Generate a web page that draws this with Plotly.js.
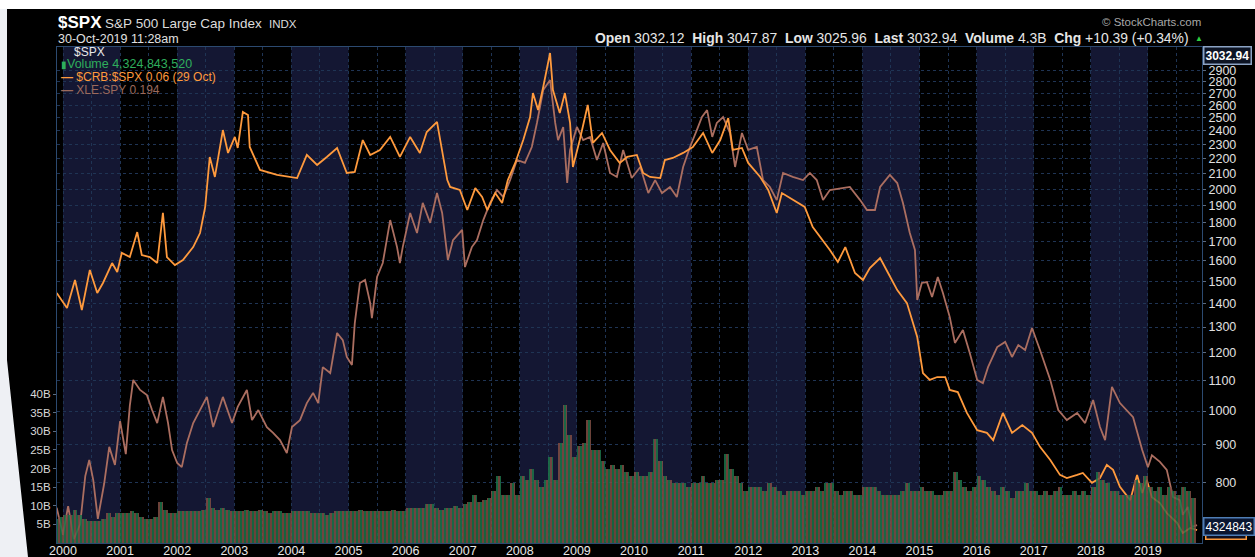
<!DOCTYPE html>
<html><head><meta charset="utf-8">
<script src="https://cdn.plot.ly/plotly-3.0.1.min.js"></script>
<style>
html,body{margin:0;padding:0;background:#fff;width:1255px;height:557px;overflow:hidden}
#chart{position:absolute;left:0;top:9px;width:1255px;height:548px}
#edge{position:absolute;left:0;top:0;width:40px;height:557px;background:#eef0f4;clip-path:polygon(0 9px,7px 9px,7px 360px,28px 557px,0 557px);pointer-events:none}
</style></head><body><div id="chart"></div><div id="edge"></div>
<script>
// ---- $CRB:$SPX ratio line (plotted on the $SPX price scale) ----
const crbX = [
 1999.89,2000.07,2000.21,2000.33,2000.47,2000.60,2000.70,2000.86,2000.95,
 2001.03,2001.17,2001.30,2001.38,2001.52,2001.65,2001.75,2001.82,2001.96,
 2002.10,2002.28,2002.40,2002.49,2002.57,2002.66,2002.80,2002.89,
 2003.01,2003.06,2003.15,2003.24,2003.27,2003.45,2003.75,
 2004.10,2004.27,2004.45,2004.62,2004.80,2004.97,
 2005.11,2005.25,2005.38,2005.55,2005.73,2005.90,
 2006.08,2006.25,2006.37,2006.55,2006.60,2006.73,2006.78,2006.95,
 2007.08,2007.22,2007.34,2007.43,2007.57,2007.69,2007.79,2007.92,
 2008.06,2008.18,2008.23,2008.32,2008.41,2008.53,2008.58,2008.70,2008.79,2008.88,2008.93,
 2009.05,2009.19,2009.28,2009.44,2009.58,2009.75,2009.88,
 2010.05,2010.16,2010.28,2010.46,2010.54,2010.68,2010.86,
 2011.03,2011.21,2011.37,2011.51,2011.65,2011.73,2011.89,
 2012.00,2012.21,2012.35,2012.50,2012.59,2012.70,2012.87,2012.99,
 2013.13,2013.31,2013.43,2013.57,2013.70,2013.87,
 2014.01,2014.13,2014.31,2014.45,2014.61,2014.78,2014.96,
 2015.06,2015.18,2015.31,2015.45,2015.53,2015.67,2015.83,
 2016.01,2016.18,2016.29,2016.46,2016.62,2016.80,2016.97,
 2017.11,2017.29,2017.46,2017.58,2017.76,2017.86,
 2018.02,2018.16,2018.28,2018.39,2018.51,2018.69,2018.81,2018.90,2018.98,
 2019.07,2019.21,2019.33,2019.51,2019.61,2019.74,2019.86];
const crbY = [
 1446,1380,1506,1371,1554,1446,1492,1588,1544,
 1639,1618,1749,1628,1618,1588,1857,1618,1578,
 1603,1669,1744,1892,2212,2078,2406,2240,
 2355,2275,2546,2522,2282,2124,2091,
 2071,2226,2157,2212,2275,2104,
 2111,2332,2226,2261,2355,2212,
 2355,2240,2391,2468,2347,2058,2014,1995,
 1874,2007,1952,1874,1976,1916,2058,2171,
 2332,2506,2701,2561,2752,3061,2727,2538,2701,2460,2144,
 2332,2602,2311,2384,2261,2171,2212,
 2226,2104,2078,2071,2191,2205,2240,
 2282,2384,2240,2332,2498,2261,2275,
 2171,2078,1995,1857,1976,1952,1916,1892,
 1777,1706,1654,1593,1669,1539,
 1506,1563,1613,1539,1459,1401,1260,
 1126,1102,1112,1112,1068,1061,994,
 942,934,913,994,934,957,934,
 894,858,819,811,819,824,
 799,811,845,832,789,757,819,774,806,
 764,750,727,705,683,694,689];

// ---- XLE:SPY ratio line ----
const xleX = [
 1999.89,2000.00,2000.09,2000.19,2000.30,2000.39,2000.46,2000.53,2000.61,2000.72,2000.81,2000.91,
 2001.00,2001.10,2001.17,2001.23,2001.35,2001.47,2001.56,2001.65,2001.75,2001.84,2001.91,
 2002.00,2002.08,2002.17,2002.28,2002.40,2002.52,2002.63,2002.75,2002.80,2002.96,
 2003.06,2003.22,2003.31,2003.42,2003.57,2003.68,2003.80,2003.92,
 2004.01,2004.15,2004.27,2004.38,2004.47,2004.55,2004.68,2004.80,2004.90,2004.97,
 2005.06,2005.11,2005.20,2005.29,2005.38,2005.41,2005.50,2005.60,2005.73,2005.85,2005.90,2005.95,
 2006.08,2006.20,2006.30,2006.43,2006.55,2006.64,2006.74,2006.83,2006.99,
 2007.04,2007.16,2007.25,2007.36,2007.48,2007.60,2007.71,2007.83,2007.95,
 2008.09,2008.21,2008.30,2008.41,2008.53,2008.62,2008.67,2008.76,2008.83,2008.88,
 2009.00,2009.11,2009.23,2009.35,2009.46,2009.58,2009.70,2009.81,2009.96,
 2010.11,2010.25,2010.37,2010.49,2010.63,2010.75,2010.86,2010.98,
 2011.10,2011.19,2011.28,2011.37,2011.45,2011.56,2011.68,2011.77,2011.89,
 2012.00,2012.15,2012.26,2012.38,2012.50,2012.61,2012.78,2012.96,
 2013.08,2013.20,2013.31,2013.43,2013.66,2013.78,2013.96,
 2014.08,2014.22,2014.31,2014.48,2014.61,2014.71,2014.83,2014.92,2014.96,
 2015.04,2015.13,2015.22,2015.32,2015.41,2015.53,2015.62,2015.76,2015.88,
 2016.01,2016.11,2016.20,2016.36,2016.50,2016.62,2016.73,2016.85,2016.97,
 2017.11,2017.29,2017.43,2017.58,2017.76,2017.90,
 2018.04,2018.16,2018.25,2018.37,2018.51,2018.63,2018.74,2018.90,
 2019.00,2019.07,2019.21,2019.33,2019.44,2019.56,2019.61,2019.70,2019.77,2019.86];
const xleY = [
 739,679,743,670,702,816,858,806,714,796,894,845,
 969,874,1016,1102,1068,1051,1003,963,1045,963,885,
 850,839,905,963,1003,1045,951,1013,1045,963,
 1013,1068,972,1003,951,934,913,877,
 951,972,1025,1058,1025,1147,1126,1276,1248,1184,
 1155,1316,1492,1506,1401,1337,1520,1588,1816,1669,1588,1669,
 1857,1744,1916,1800,1976,1857,1603,1706,1761,
 1568,1669,1706,1816,1916,1995,1952,2058,2191,
 2171,2282,2460,2727,2813,2460,2332,2429,2039,2261,
 2429,2332,2355,2191,2311,2104,2078,2261,2071,
 2144,1976,2058,1976,2014,1952,2144,2282,
 2406,2506,2561,2355,2460,2506,2384,2144,2384,
 2261,2282,2058,2014,1933,2104,2078,2058,
 2104,2058,1933,1995,2007,2014,1933,
 1874,1874,2014,2091,2039,1916,1744,1654,1415,
 1492,1496,1428,1520,1446,1341,1237,1288,1199,
 1102,1091,1147,1221,1241,1184,1229,1210,1296,
 1210,1102,1003,972,994,963,
 1035,951,913,1078,1025,1003,981,885,
 839,871,853,832,764,757,723,741,696,700];

// ---- Volume (billions of shares per week, read monthly), from Nov-1999 ----
const volStartYear = 1999, volStartMonth = 11;
const volume = [
 6.5,7,
 7.5,7.5,9,7.5,6.5,6,6,6,6.5,8,7,8,
 8,8,8.5,8,7,6.5,6.5,7,11,9,8,8,
 8.5,8.5,8.5,8.5,8.5,9,12,9.5,9,9.5,9,8.5,
 8.5,8.5,9,8.5,8.5,9,8.5,8,8.5,8.5,8,8,
 8.5,8.5,8.5,8.5,8,8,8,7.5,8,8.5,8.5,8.5,
 8.5,8.5,9,8.5,8.5,8.5,8.5,8.5,8.5,9,8.5,8.5,
 9.5,9.5,9.5,9.5,10.5,10.5,9.5,9,9.5,9.5,10,9.5,
 10.5,11,13,11,11.5,12,14,18,13,13,16,13,
 18,17,20,17,15,17,23,17,27,37,29,23,
 26,27,33,25,25,22,20,21,20,21,19,18,
 19,18,18,19,28,22,18,17,16,16,16,15,
 16,16,18,16,16,17,17,24,20,18,16,14,
 15,15,15,14,16,15,14,13,14,14,14,13,
 14,14,15,14,16,16,14,13,14,14,13,13,
 15,15,15,14,13,13,13,13,14,16,14,14,
 15,14,14,13,13,14,14,19,17,15,14,15,
 18,17,15,14,13,15,14,12,14,14,16,14,
 14,13,14,13,14,15,13,13,14,13,14,13,
 15,19,17,16,14,14,13,13,13,17,16,18,
 15,14,15,13,15,14,13,15,14,12];

const yearTicks = [2000,2001,2002,2003,2004,2005,2006,2007,2008,2009,2010,2011,2012,2013,2014,2015,2016,2017,2018,2019];
const priceTicks = [800,900,1000,1100,1200,1300,1400,1500,1600,1700,1800,1900,2000,2100,2200,2300,2400,2500,2600,2700,2800,2900];
const volTicks = [5,10,15,20,25,30,35,40];
const lastPrice = 3032.94;
const lastVolume = 4.324843520;

const volX = volume.map((v,i)=> volStartYear + (volStartMonth - 1 + i + 0.5)/12);

const FONT = 'Liberation Sans, Arial, sans-serif';
const gridCol = '#1f3454';

const shapes = yearTicks.filter(y=>y%2===0).map(y=>({
  type:'rect', xref:'x', yref:'paper', x0:y, x1:y+1, y0:0, y1:1,
  fillcolor:'#141733', line:{width:0}, layer:'below'
}));

const traces = [
 {x:xleX, y:xleY, type:'scatter', mode:'lines', line:{color:'#ab6e60', width:1.8}, yaxis:'y', hoverinfo:'skip'},
 {x:crbX, y:crbY, type:'scatter', mode:'lines', line:{color:'#ff9a3d', width:1.8}, yaxis:'y', hoverinfo:'skip'},
 {x:volX, y:volume, type:'bar', yaxis:'y2', width:1/12, opacity:0.85,
  marker:{color:'#1d7449', line:{width:0},
    pattern:{shape:'|', fgcolor:'#8a4a43', bgcolor:'#1d7449', size:4, solidity:0.45}}, hoverinfo:'skip'}
];

const P = (Y)=> (543 - Y)/496;      // window y -> paper y
const PX = (X)=> (X - 57)/1145;     // window x -> paper x

const ann = [
 {xref:'paper', yref:'paper', x:PX(56), y:P(22), xanchor:'left', yanchor:'middle', showarrow:false,
  text:"<b><span style='font-size:17px;color:#ffffff'>$SPX</span></b> <span style='font-size:13.5px'>S&amp;P 500 Large Cap Index</span>  <span style='font-size:11.5px'>INDX</span>",
  font:{family:FONT, size:13, color:'#dcdcdc'}},
 {xref:'paper', yref:'paper', x:PX(56), y:P(38.5), xanchor:'left', yanchor:'middle', showarrow:false,
  text:'30-Oct-2019 11:28am', font:{family:FONT, size:12.5, color:'#e0e0e0'}},
 {xref:'paper', yref:'paper', x:PX(1203), y:P(22), xanchor:'right', yanchor:'middle', showarrow:false,
  text:'© StockCharts.com', font:{family:FONT, size:11.5, color:'#a8a8a8'}},
 {xref:'paper', yref:'paper', x:PX(1191), y:P(38), xanchor:'right', yanchor:'middle', showarrow:false,
  text:"<b>Open</b> 3032.12  <b>High</b> 3047.87  <b>Low</b> 3025.96  <b>Last</b> 3032.94  <b>Volume</b> 4.3B  <b>Chg</b> +10.39 (+0.34%)",
  font:{family:FONT, size:13.9, color:'#e6e6e6'}},
 {xref:'paper', yref:'paper', x:PX(1193), y:P(38.5), xanchor:'left', yanchor:'middle', showarrow:false,
  text:'▲', font:{family:FONT, size:8, color:'#2ecc40'}},
 // legend
 {xref:'paper', yref:'paper', x:PX(72), y:P(52), xanchor:'left', yanchor:'middle', showarrow:false,
  text:'$SPX', font:{family:FONT, size:12, color:'#e8e8e8'}},
 {xref:'paper', yref:'paper', x:PX(59), y:P(64), xanchor:'left', yanchor:'middle', showarrow:false,
  text:"<span style='font-size:10px'>▮</span>Volume 4,324,843,520", font:{family:FONT, size:12.5, color:'#2fae5c'}},
 {xref:'paper', yref:'paper', x:PX(59), y:P(77), xanchor:'left', yanchor:'middle', showarrow:false,
  text:'<b>—</b> $CRB:$SPX 0.06 (29 Oct)', font:{family:FONT, size:12, color:'#ff9a3d'}},
 {xref:'paper', yref:'paper', x:PX(59), y:P(89.5), xanchor:'left', yanchor:'middle', showarrow:false,
  text:'<b>—</b> XLE:SPY 0.194', font:{family:FONT, size:12, color:'#9c6a5c'}},
 // last value boxes
 {xref:'paper', yref:'y2', x:1, y:lastVolume-0.9, xanchor:'left', yanchor:'middle', showarrow:false, xshift:3,
  text:'0.0604', font:{family:FONT, size:12, color:'#ffffff'}, bgcolor:'#101020', bordercolor:'#ff9a3d', borderwidth:1.5, borderpad:1},
 {xref:'paper', yref:'y2', x:1, y:lastVolume, xanchor:'left', yanchor:'middle', showarrow:false, xshift:1,
  text:'4324843', font:{family:FONT, size:12, color:'#ffffff'}, bgcolor:'#0b1630', bordercolor:'#4f7db5', borderwidth:1.5, borderpad:1},
 {xref:'paper', yref:'y', x:1, y:Math.log10(lastPrice), xanchor:'left', yanchor:'middle', showarrow:false, xshift:1,
  text:'<b>3032.94</b>', font:{family:FONT, size:12, color:'#ffffff'}, bgcolor:'#0d1424', bordercolor:'#8ca3c4', borderwidth:1.5, borderpad:1}
];

const layout = {
  width:1255, height:548,
  margin:{l:57, r:53, t:38, b:14, pad:0},
  paper_bgcolor:'#000000', plot_bgcolor:'#000000',
  showlegend:false, bargap:0,
  font:{family:FONT, color:'#dddddd'},
  xaxis:{type:'linear', range:[1999.895, 2019.947], tickmode:'array', tickvals:yearTicks,
    ticktext:yearTicks.map(String), showgrid:true, gridcolor:gridCol, griddash:'dot', gridwidth:1,
    minor:{tickmode:'linear', tick0:2000.5, dtick:1, showgrid:true, gridcolor:gridCol, griddash:'dot', gridwidth:1, ticks:''},
    ticks:'', ticklabelstandoff:-4, tickfont:{family:FONT, size:12.5, color:'#e8e8e8'}, showline:true, linecolor:'#2c4a70', linewidth:1, mirror:true,
    zeroline:false, fixedrange:true},
  yaxis:{type:'log', side:'right', range:[Math.log10(662), Math.log10(3119)], tickmode:'array', tickvals:priceTicks,
    ticktext:priceTicks.map(v=> v<1000 ? '\u2007'+v : String(v)),
    showgrid:true, gridcolor:gridCol, griddash:'dot', gridwidth:1,
    ticks:'outside', ticklen:3, tickcolor:'#5a6a80', tickfont:{family:FONT, size:12.5, color:'#e0e0e0'},
    showline:true, linecolor:'#2c4a70', linewidth:1, zeroline:false, fixedrange:true},
  yaxis2:{overlaying:'y', side:'left', range:[0, 133.3], tickmode:'array', tickvals:volTicks,
    ticktext:volTicks.map(v=>v+'B'), showgrid:false, zeroline:false,
    ticks:'outside', ticklen:3, tickcolor:'#5a6a80', tickfont:{family:FONT, size:11.5, color:'#d8d8d8'},
    showline:true, linecolor:'#2c4a70', linewidth:1, fixedrange:true},
  shapes:shapes,
  annotations:ann
};

Plotly.newPlot('chart', traces, layout, {displayModeBar:false, staticPlot:true});
</script>
</body></html>
